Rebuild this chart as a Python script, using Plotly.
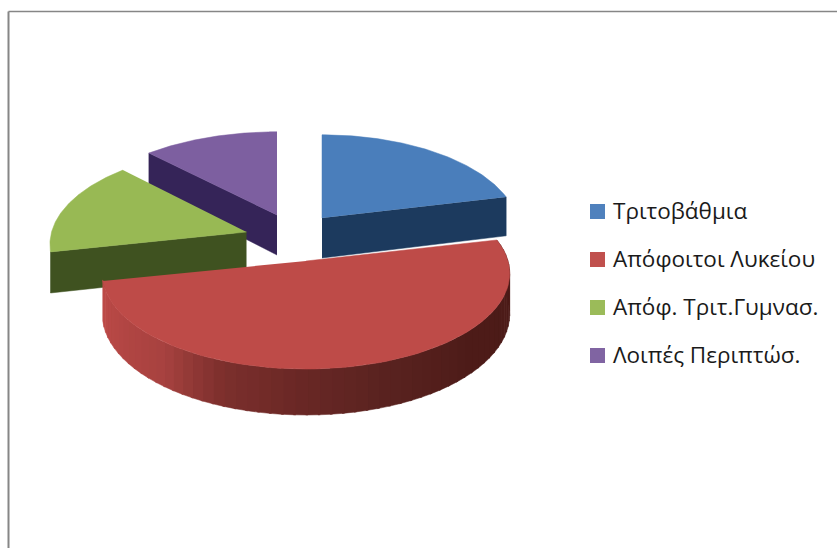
import numpy as np
import plotly.graph_objects as go

categories = ["Τριτοβάθμια", "Απόφοιτοι Λυκείου", "Απόφ. Τριτ.Γυμνασ.", "Λοιπές Περιπτώσ."]
values = [21.3, 50.4, 16.1, 12.2]

top_colors = ["#4a7ebb", "#be4b48", "#98b954", "#7d5fa0"]
wall_colors = ["#1c3a5e", "#5a1f1c", "#3f5220", "#352458"]
legend_colors = ["#4f81bd", "#c0504d", "#9bbb59", "#8064a2"]
tips = [(322, 218), (306, 261), (246.5, 232), (277, 215)]
x_scale = [0.965, 1.0, 0.965, 1.0]

R, T, P, DEPTH = 202, 94, 0.13, 40
LEG_X, LEG_Y0, LEG_DY = 597.5, 211.5, 48


def proj(i, theta, drop=0.0):
    s = 1 / (1 + P * np.cos(theta))
    return tips[i][0] + R * x_scale[i] * np.sin(theta) * s, tips[i][1] - T * np.cos(theta) * s + drop * s


edges = np.radians(np.concatenate([[0], np.cumsum(values) * 3.6]))
fig = go.Figure()


def poly(xs, ys, color):
    fig.add_trace(go.Scatter(x=list(xs), y=list(ys), mode="lines", fill="toself", fillcolor=color,
                             line=dict(color=color, width=0.5), hoverinfo="skip", showlegend=False))


def side_color(frac):
    stops = [(0.0, (74, 26, 23)), (0.31, (78, 28, 25)), (0.46, (90, 35, 32)), (0.58, (106, 40, 38)),
             (0.69, (125, 48, 45)), (0.79, (168, 66, 64)), (1.0, (190, 75, 72))]
    fs = [a for a, _ in stops]
    return "rgb(%d,%d,%d)" % tuple(np.interp(frac, fs, [c[i] for _, c in stops]) for i in range(3))


for i in [3, 2, 1, 0]:
    a0, a1 = edges[i], edges[i + 1]
    tip = tips[i]
    th = np.linspace(a0, a1, 80)
    if i == 1:
        seg = np.linspace(a0, a1, 61)
        for j in range(60):
            t2 = np.linspace(seg[j], seg[j + 1] + 0.01, 4)
            ox, oy = proj(i, t2)
            bx, by = proj(i, t2, drop=DEPTH)
            poly(np.r_[ox, bx[::-1]], np.r_[oy, by[::-1]], side_color(j / 59))
    else:
        wall_a = {0: a1, 2: a0, 3: a0}[i]
        ex, ey = proj(i, wall_a)
        bx, by = proj(i, wall_a, drop=DEPTH)
        poly([tip[0], ex, bx, tip[0]], [tip[1], ey, by, tip[1] + DEPTH], wall_colors[i])
    ox, oy = proj(i, th)
    poly(np.r_[tip[0], ox], np.r_[tip[1], oy], top_colors[i])

fig.add_trace(go.Scatter(
    x=[LEG_X] * 4, y=[LEG_Y0 + k * LEG_DY for k in range(4)], mode="markers",
    marker=dict(symbol="square", size=15, color=legend_colors), hoverinfo="skip", showlegend=False))

for k, name in enumerate(categories):
    fig.add_annotation(x=612, y=LEG_Y0 + k * LEG_DY, text=name, showarrow=False, xanchor="left", yanchor="middle",
                       xshift=-1, yshift=1, font=dict(family="Open Sans", size=22.5, color="#1a1a1a"))

fig.add_shape(type="line", x0=8.5, x1=837, y0=11.5, y1=11.5, line=dict(color="#868686", width=1.5), layer="above")
fig.add_shape(type="line", x0=8.5, x1=8.5, y0=11.5, y1=548, line=dict(color="#868686", width=2), layer="above")

fig.update_layout(
    width=837, height=548, margin=dict(l=0, r=0, t=0, b=0), autosize=False,
    paper_bgcolor="white", plot_bgcolor="white", showlegend=False,
    xaxis=dict(range=[0, 837], visible=False, fixedrange=True),
    yaxis=dict(range=[548, 0], visible=False, fixedrange=True),
)
fig.write_html("out.html", config={"displayModeBar": False}, post_script="document.body.style.margin='0';")
